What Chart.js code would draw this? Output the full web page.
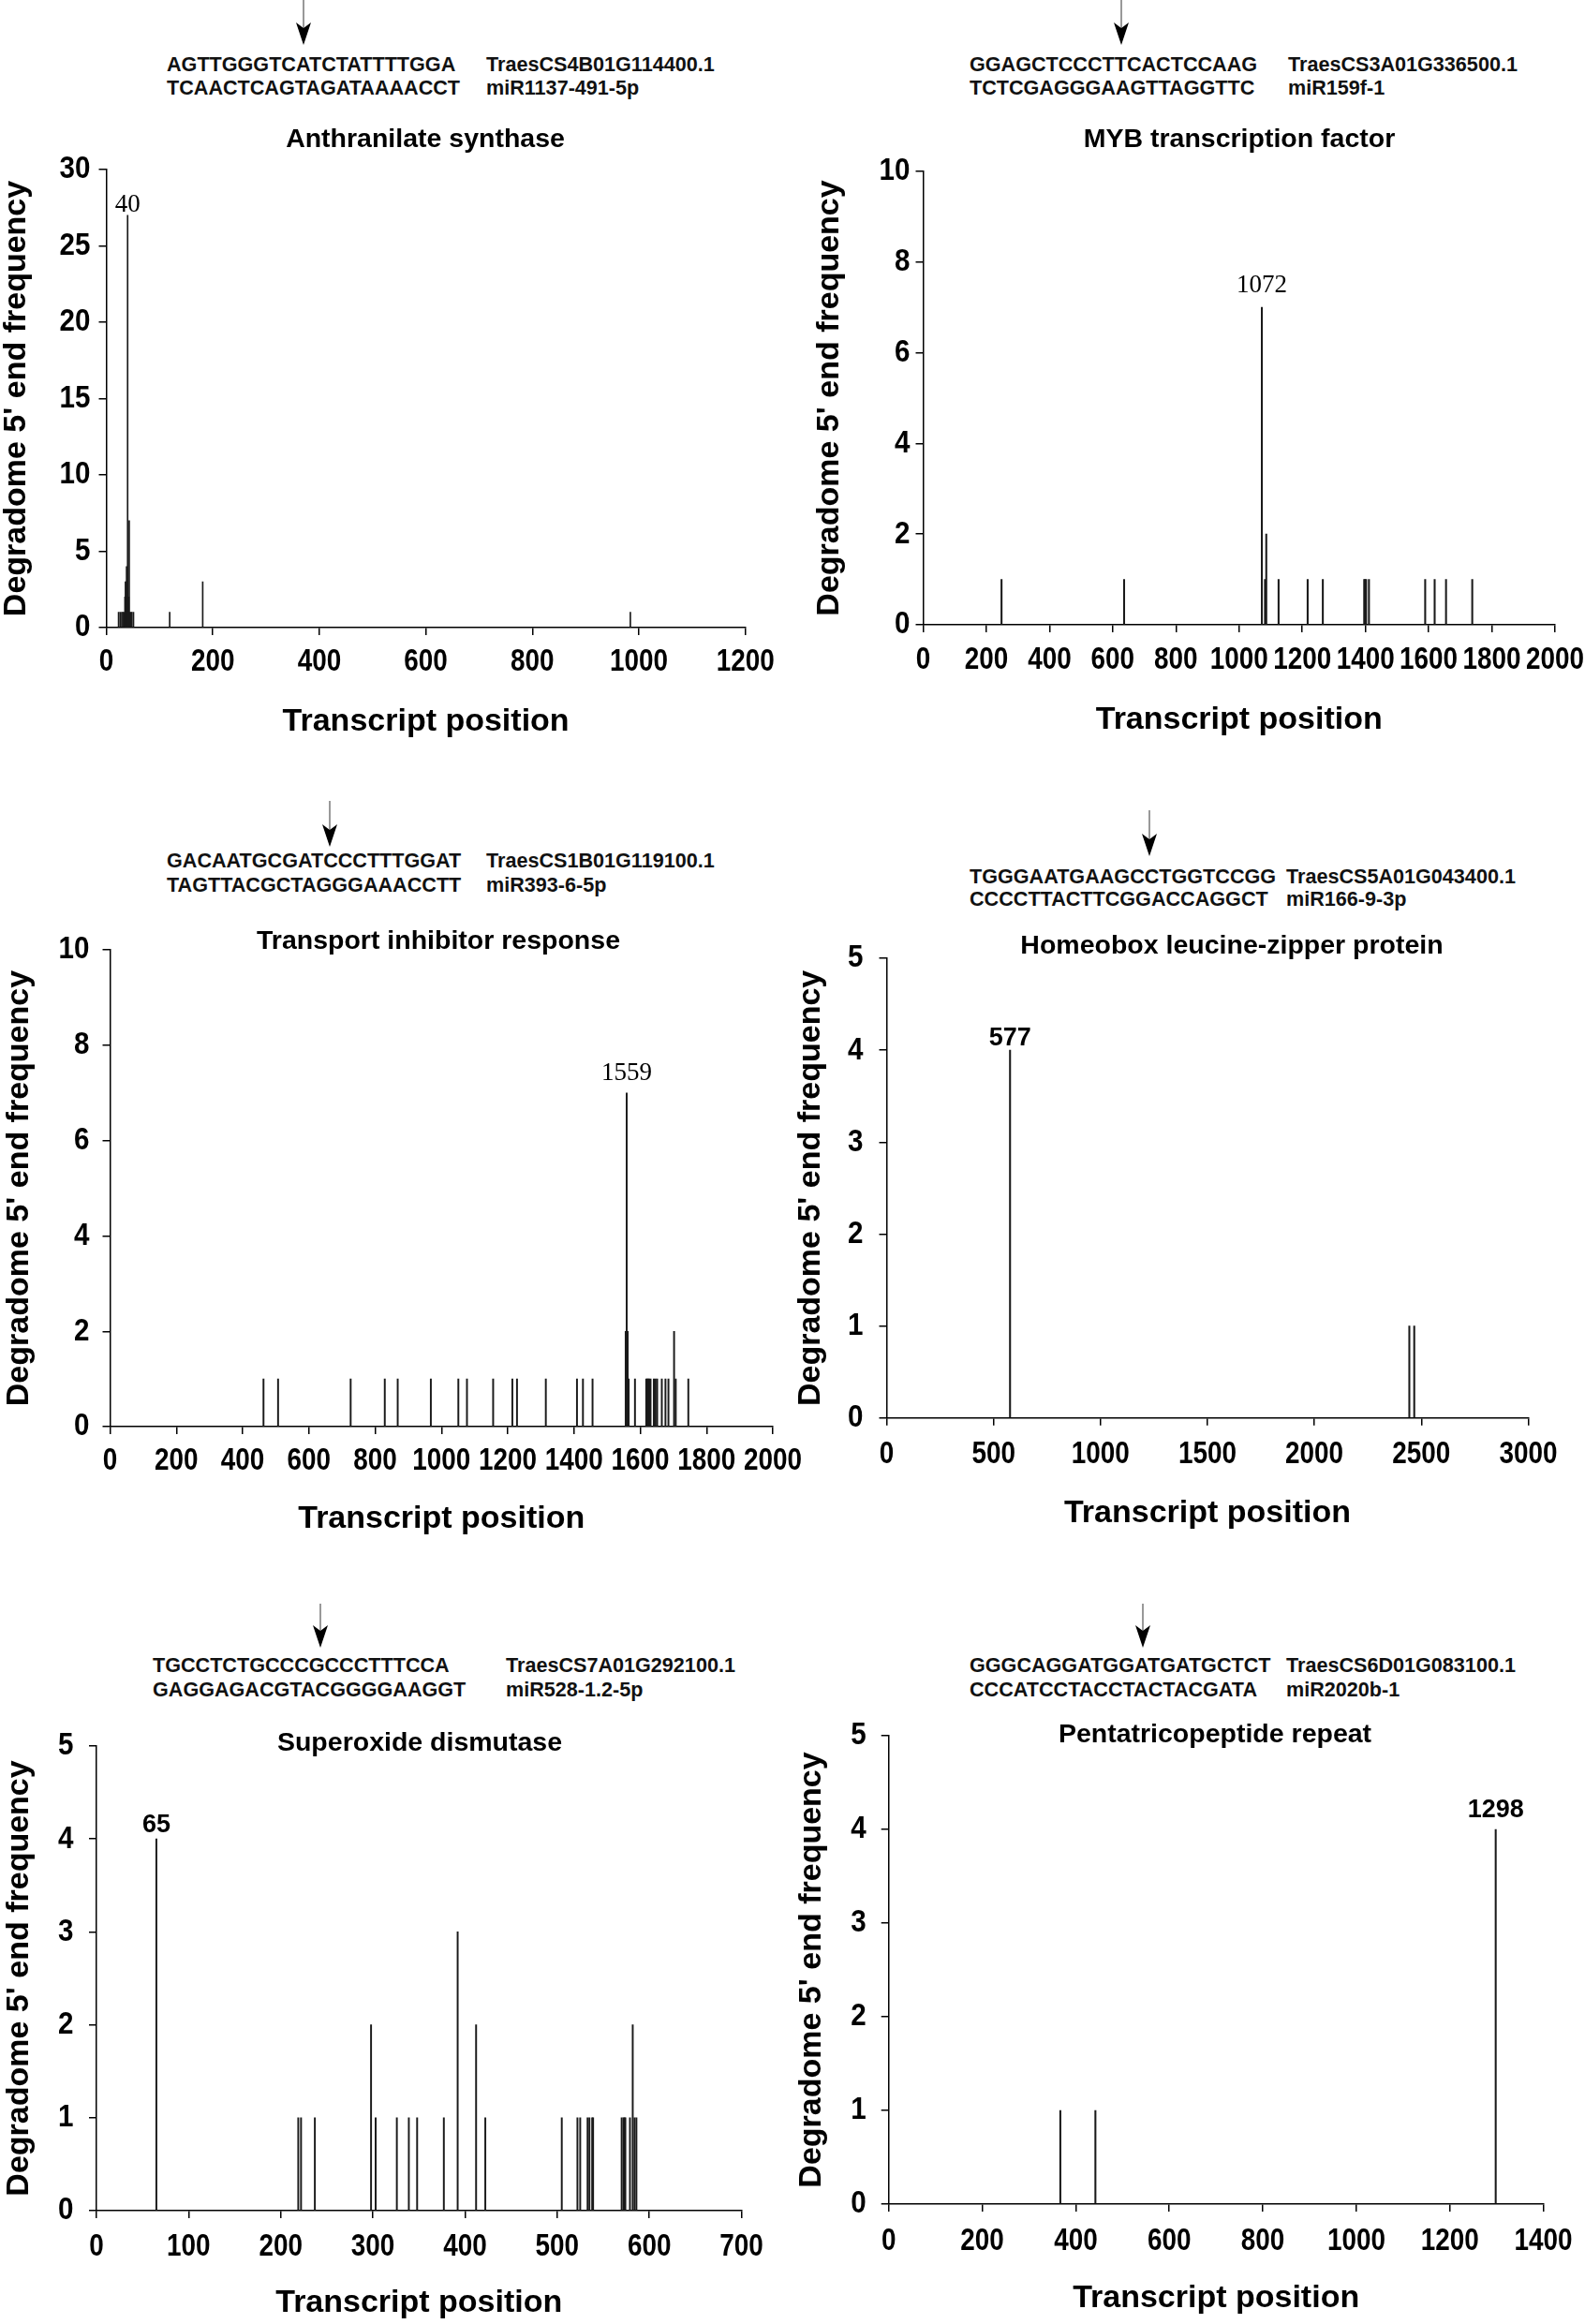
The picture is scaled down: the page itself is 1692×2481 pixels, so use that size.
<!DOCTYPE html>
<html>
<head>
<meta charset="utf-8">
<script src="https://cdn.jsdelivr.net/npm/chart.js@4.4.1/dist/chart.umd.min.js"></script>
<style>
html,body{margin:0;padding:0;background:#fff;}
body{width:1692px;height:2481px;position:relative;overflow:hidden;font-family:'Liberation Sans',Arial,Helvetica,sans-serif;color:#000;}
.seq{position:absolute;font-weight:bold;font-size:21.6px;line-height:26px;white-space:nowrap;transform:translateY(-50%);color:#111;}
.ttl{position:absolute;font-weight:bold;font-size:28.5px;line-height:34px;white-space:nowrap;transform:translate(-50%,-50%);color:#000;}
canvas{position:absolute;}
svg{position:absolute;left:0;top:0;}
</style>
</head>
<body>
<svg id="arrows" width="1692" height="2481"></svg>
<script>
// ---------------- data ----------------
const xTitle = 'Transcript position';
const yTitle = "Degradome 5' end frequency";

// Panel 1
const p1Title = 'Anthranilate synthase';
const p1Target = ['AGTTGGGTCATCTATTTTGGA', 'TraesCS4B01G114400.1'];
const p1Mirna = ['TCAACTCAGTAGATAAAACCT', 'miR1137-491-5p'];
const p1Pos = [23, 26, 29, 31, 33, 35, 36, 37, 38, 39, 40, 41, 42, 43, 44, 46, 48, 51, 119, 181, 984];
const p1Val = [1, 1, 1, 1, 1, 2, 3, 3, 4, 2, 27, 2, 2, 7, 1, 1, 1, 1, 1, 3, 1];
const p1XTicks = [0, 200, 400, 600, 800, 1000, 1200];
const p1YTicks = [0, 5, 10, 15, 20, 25, 30];
const p1Peak = {pos: 40, text: '40'};

// Panel 2
const p2Title = 'MYB transcription factor';
const p2Target = ['GGAGCTCCCTTCACTCCAAG', 'TraesCS3A01G336500.1'];
const p2Mirna = ['TCTCGAGGGAAGTTAGGTTC', 'miR159f-1'];
const p2Pos = [248, 636, 1072, 1082, 1086, 1125, 1217, 1265, 1396, 1399, 1402, 1411, 1589, 1619, 1655, 1738];
const p2Val = [1, 1, 7, 1, 2, 1, 1, 1, 1, 1, 1, 1, 1, 1, 1, 1];
const p2XTicks = [0, 200, 400, 600, 800, 1000, 1200, 1400, 1600, 1800, 2000];
const p2YTicks = [0, 2, 4, 6, 8, 10];
const p2Peak = {pos: 1072, text: '1072'};

// Panel 3
const p3Title = 'Transport inhibitor response';
const p3Target = ['GACAATGCGATCCCTTTGGAT', 'TraesCS1B01G119100.1'];
const p3Mirna = ['TAGTTACGCTAGGGAAACCTT', 'miR393-6-5p'];
const p3Pos = [463, 507, 726, 829, 868, 968, 1051, 1077, 1156, 1214, 1228, 1315, 1409, 1427, 1456,
               1556, 1559, 1562, 1565, 1584, 1618, 1621, 1624, 1627, 1631, 1641, 1646, 1651, 1665, 1676, 1685, 1702, 1707, 1745];
const p3Val = [1, 1, 1, 1, 1, 1, 1, 1, 1, 1, 1, 1, 1, 1, 1,
               2, 7, 2, 1, 1, 1, 1, 1, 1, 1, 1, 1, 1, 1, 1, 1, 2, 1, 1];
const p3XTicks = [0, 200, 400, 600, 800, 1000, 1200, 1400, 1600, 1800, 2000];
const p3YTicks = [0, 2, 4, 6, 8, 10];
const p3Peak = {pos: 1559, text: '1559'};

// Panel 4
const p4Title = 'Homeobox leucine-zipper protein';
const p4Target = ['TGGGAATGAAGCCTGGTCCGG', 'TraesCS5A01G043400.1'];
const p4Mirna = ['CCCCTTACTTCGGACCAGGCT', 'miR166-9-3p'];
const p4Pos = [577, 2444, 2467];
const p4Val = [4, 1, 1];
const p4XTicks = [0, 500, 1000, 1500, 2000, 2500, 3000];
const p4YTicks = [0, 1, 2, 3, 4, 5];
const p4Peak = {pos: 577, text: '577'};

// Panel 5
const p5Title = 'Superoxide dismutase';
const p5Target = ['TGCCTCTGCCCGCCCTTTCCA', 'TraesCS7A01G292100.1'];
const p5Mirna = ['GAGGAGACGTACGGGGAAGGT', 'miR528-1.2-5p'];
const p5Pos = [65, 219, 222, 237, 298, 303, 326, 339, 348, 377, 392, 412, 422, 505, 522, 525, 533, 535, 538, 539, 570, 572, 573, 574, 579, 582, 584, 586];
const p5Val = [4, 1, 1, 1, 2, 1, 1, 1, 1, 1, 3, 2, 1, 1, 1, 1, 1, 1, 1, 1, 1, 1, 1, 1, 1, 2, 1, 1];
const p5XTicks = [0, 100, 200, 300, 400, 500, 600, 700];
const p5YTicks = [0, 1, 2, 3, 4, 5];
const p5Peak = {pos: 65, text: '65'};

// Panel 6
const p6Title = 'Pentatricopeptide repeat';
const p6Target = ['GGGCAGGATGGATGATGCTCT', 'TraesCS6D01G083100.1'];
const p6Mirna = ['CCCATCCTACCTACTACGATA', 'miR2020b-1'];
const p6Pos = [367, 442, 1298];
const p6Val = [1, 1, 4];
const p6XTicks = [0, 200, 400, 600, 800, 1000, 1200, 1400];
const p6YTicks = [0, 1, 2, 3, 4, 5];
const p6Peak = {pos: 1298, text: '1298'};

// ---------------- layout / style ----------------
const SANS = "'Liberation Sans', Arial, Helvetica, sans-serif";
const SERIF = "'Liberation Serif', 'Times New Roman', Times, serif";
const TICK_FONT = `bold 34px ${SANS}`;
const X_SQUEEZE = 0.82;   // condensed look of the original tick labels
const Y_SQUEEZE = 0.87;

const panels = [
  {title:p1Title, target:p1Target, mirna:p1Mirna, pos:p1Pos, val:p1Val, xt:p1XTicks, yt:p1YTicks, peak:p1Peak, serif:true, bar:1.0,
   area:[113.5,795.7,181,670], cx:0, yTitleX:18, yTickGap:17, xTickOff:37, xTitleOff:101, peakGap:4,
   arrow:[324,0,48], seq:[178,519,69,94], ttl:[454,147]},
  {title:p2Title, target:p2Target, mirna:p2Mirna, pos:p2Pos, val:p2Val, xt:p2XTicks, yt:p2YTicks, peak:p2Peak, serif:true, bar:1.4,
   area:[985.5,1660,183,667], cx:846, yTitleX:886, yTickGap:14, xTickOff:37.5, xTitleOff:102, peakGap:16,
   arrow:[1197,0,48], seq:[1035,1375,69,94], ttl:[1323,147]},
  {title:p3Title, target:p3Target, mirna:p3Mirna, pos:p3Pos, val:p3Val, xt:p3XTicks, yt:p3YTicks, peak:p3Peak, serif:true, bar:1.3,
   area:[117.5,825,1013.5,1522.6], cx:0, yTitleX:21, yTickGap:22, xTickOff:37, xTitleOff:99, peakGap:14,
   arrow:[352,855,904], seq:[178,519,919,945], ttl:[468,1003]},
  {title:p4Title, target:p4Target, mirna:p4Mirna, pos:p4Pos, val:p4Val, xt:p4XTicks, yt:p4YTicks, peak:p4Peak, serif:false, bar:1.4,
   area:[946.5,1631.4,1022.7,1513.5], cx:846, yTitleX:865.5, yTickGap:25, xTickOff:39, xTitleOff:102, peakGap:5,
   arrow:[1227,865,914], seq:[1035,1373,936,960], ttl:[1315,1008]},
  {title:p5Title, target:p5Target, mirna:p5Mirna, pos:p5Pos, val:p5Val, xt:p5XTicks, yt:p5YTicks, peak:p5Peak, serif:false, bar:1.3,
   area:[103,791.5,1864,2360], cx:0, yTitleX:21, yTickGap:24.5, xTickOff:38.5, xTitleOff:99, peakGap:7,
   arrow:[342,1712,1759], seq:[163,540,1778,1804], ttl:[448,1859]},
  {title:p6Title, target:p6Target, mirna:p6Mirna, pos:p6Pos, val:p6Val, xt:p6XTicks, yt:p6YTicks, peak:p6Peak, serif:false, bar:1.4,
   area:[948.7,1647.6,1853,2353], cx:846, yTitleX:867, yTickGap:24, xTickOff:40, xTitleOff:101, peakGap:13,
   arrow:[1220,1712,1759], seq:[1035,1373,1778,1804], ttl:[1297,1850]}
];

const peakLabelPlugin = {
  id: 'peakLabel',
  afterDatasetsDraw(chart, args, opts) {
    if (!opts || !opts.text) return;
    const ctx = chart.ctx;
    const xs = chart.scales.x, ys = chart.scales.y;
    ctx.save();
    ctx.font = opts.font;
    ctx.fillStyle = '#000';
    ctx.textAlign = 'center';
    ctx.textBaseline = 'alphabetic';
    ctx.fillText(opts.text, xs.getPixelForValue(opts.pos), ys.getPixelForValue(opts.value) - opts.gap);
    ctx.restore();
  }
};

// tick labels drawn at the library's tick positions, horizontally condensed
const tickTextPlugin = {
  id: 'tickText',
  afterDraw(chart, args, opts) {
    const ctx = chart.ctx;
    const xs = chart.scales.x, ys = chart.scales.y;
    const area = chart.chartArea;
    ctx.save();
    ctx.fillStyle = '#000';
    ctx.font = TICK_FONT;
    ctx.textBaseline = 'middle';
    xs.ticks.forEach(t => {
      ctx.save();
      ctx.translate(xs.getPixelForValue(t.value), area.bottom + opts.xOff);
      ctx.scale(X_SQUEEZE, 1);
      ctx.textAlign = 'center';
      ctx.fillText(String(t.value), 0, 0);
      ctx.restore();
    });
    ys.ticks.forEach(t => {
      ctx.save();
      ctx.translate(area.left - opts.yGap, ys.getPixelForValue(t.value));
      ctx.scale(Y_SQUEEZE, 1);
      ctx.textAlign = 'right';
      ctx.fillText(String(t.value), 0, 0);
      ctx.restore();
    });
    ctx.restore();
  }
};

function addDiv(cls, text, left, top) {
  const d = document.createElement('div');
  d.className = cls;
  d.textContent = text;
  d.style.left = left + 'px';
  d.style.top = top + 'px';
  document.body.appendChild(d);
}

function addArrow(x, y0, tip) {
  const svg = document.getElementById('arrows');
  const ns = 'http://www.w3.org/2000/svg';
  const line = document.createElementNS(ns, 'line');
  line.setAttribute('x1', x); line.setAttribute('x2', x);
  line.setAttribute('y1', y0); line.setAttribute('y2', tip - 18);
  line.setAttribute('stroke', '#555'); line.setAttribute('stroke-width', '1.2');
  svg.appendChild(line);
  const head = document.createElementNS(ns, 'polygon');
  head.setAttribute('points', `${x},${tip} ${x-8},${tip-24} ${x},${tip-18} ${x+8},${tip-24}`);
  head.setAttribute('fill', '#000');
  svg.appendChild(head);
}

function buildPanel(cfg) {
  const [L, R, T, B] = cfg.area;
  const cx = cfg.cx;
  const xH = cfg.xTitleOff + 19;
  const canvasTop = T - 30;
  const W = Math.ceil(R - cx + 60);
  const H = Math.ceil(B - T + 30 + xH + 6);
  const canvas = document.createElement('canvas');
  canvas.width = W; canvas.height = H;
  canvas.style.left = cx + 'px';
  canvas.style.top = canvasTop + 'px';
  canvas.style.width = W + 'px';
  canvas.style.height = H + 'px';
  document.body.appendChild(canvas);
  const padRight = W - (R - cx);
  const padBottom = H - 30 - (B - T) - xH;
  const yW = L - cx;
  const peakValue = cfg.val[cfg.pos.indexOf(cfg.peak.pos)];

  new Chart(canvas.getContext('2d'), {
    type: 'bar',
    data: {
      datasets: [{
        data: cfg.pos.map((p, i) => ({x: p, y: cfg.val[i]})),
        backgroundColor: '#1a1a1a',
        borderWidth: 0,
        barThickness: cfg.bar
      }]
    },
    options: {
      responsive: false,
      animation: false,
      devicePixelRatio: 1,
      layout: {padding: {left: 0, top: 30, right: padRight, bottom: padBottom}},
      plugins: {
        legend: {display: false},
        tooltip: {enabled: false},
        title: {display: false},
        peakLabel: {
          text: cfg.peak.text, pos: cfg.peak.pos, value: peakValue, gap: cfg.peakGap,
          font: cfg.serif ? `normal 27px ${SERIF}` : `bold 27px ${SANS}`
        },
        tickText: {xOff: cfg.xTickOff, yGap: cfg.yTickGap}
      },
      scales: {
        x: {
          type: 'linear',
          min: cfg.xt[0], max: cfg.xt[cfg.xt.length - 1],
          offset: false,
          afterFit: (s) => { s.height = xH; },
          afterBuildTicks: (s) => { s.ticks = cfg.xt.map(v => ({value: v})); },
          ticks: {display: false, autoSkip: false, maxRotation: 0, minRotation: 0},
          grid: {display: true, drawOnChartArea: false, drawTicks: true, tickLength: 8, color: '#000', lineWidth: 1.5, offset: false},
          border: {display: true, color: '#000', width: 1.5},
          title: {display: true, text: xTitle, color: '#000',
                  font: {family: SANS, size: 34, weight: 'bold', lineHeight: 1}, padding: {top: 0, bottom: 2}}
        },
        y: {
          type: 'linear',
          min: cfg.yt[0], max: cfg.yt[cfg.yt.length - 1],
          afterFit: (s) => { s.width = yW; },
          afterBuildTicks: (s) => { s.ticks = cfg.yt.map(v => ({value: v})); },
          ticks: {display: false, autoSkip: false},
          grid: {display: true, drawOnChartArea: false, drawTicks: true, tickLength: 8, color: '#000', lineWidth: 1.5},
          border: {display: true, color: '#000', width: 1.5},
          title: {display: true, text: yTitle, color: '#000',
                  font: {family: SANS, size: 34, weight: 'bold', lineHeight: 1},
                  padding: {top: Math.max(0, cfg.yTitleX - cx - 17), bottom: 0}}
        }
      }
    },
    plugins: [peakLabelPlugin, tickTextPlugin]
  });

  addDiv('seq', cfg.target[0], cfg.seq[0], cfg.seq[2]);
  addDiv('seq', cfg.target[1], cfg.seq[1], cfg.seq[2]);
  addDiv('seq', cfg.mirna[0], cfg.seq[0], cfg.seq[3]);
  addDiv('seq', cfg.mirna[1], cfg.seq[1], cfg.seq[3]);
  addDiv('ttl', cfg.title, cfg.ttl[0], cfg.ttl[1]);
  addArrow(cfg.arrow[0], cfg.arrow[1], cfg.arrow[2]);
}

panels.forEach(buildPanel);
</script>
</body>
</html>
